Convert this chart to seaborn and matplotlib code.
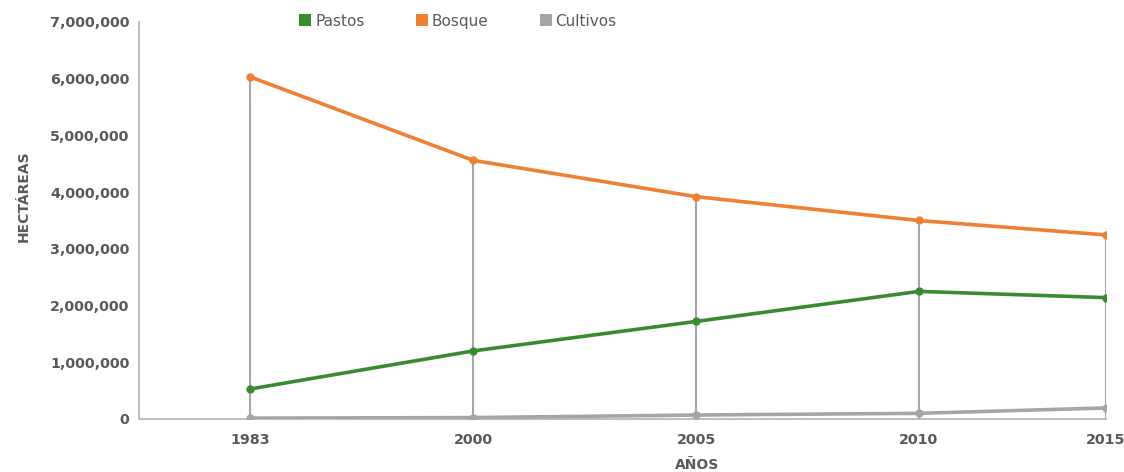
import numpy as np
import pandas as pd
import seaborn as sns
import matplotlib
matplotlib.use("Agg")
import matplotlib.pyplot as plt
from matplotlib.ticker import FuncFormatter
from matplotlib.lines import Line2D

# Land use (hectares) by year
years = ["1983", "2000", "2005", "2010", "2015"]
pastos = [530000, 1200000, 1720000, 2250000, 2140000]
bosque = [6030000, 4560000, 3920000, 3500000, 3245000]
cultivos = [15000, 25000, 70000, 100000, 195000]

series_names = ["Pastos", "Bosque", "Cultivos"]
colors = {"Pastos": "#3A8A32", "Bosque": "#EF7F32", "Cultivos": "#A5A5A5"}

# horizontal placement of the year categories on the axis
cat_pos = [0.0, 1.0, 2.0, 3.0, 3.84]

df = pd.DataFrame({
    "pos": cat_pos * 3,
    "value": pastos + bosque + cultivos,
    "serie": sum([[n] * len(years) for n in series_names], []),
})

sns.set_theme(style="white")
plt.rcParams["font.family"] = ["DejaVu Sans"]

fig = plt.figure(figsize=(11.24, 4.72), dpi=100)
ax = fig.add_axes([0.1237, 0.1123, 0.984 - 0.1237, 0.9534 - 0.1123])

# drop lines from the highest value down to the axis
tops = np.maximum.reduce([pastos, bosque, cultivos])
ax.vlines(cat_pos, 0, tops, color="#A6A6A6", linewidth=1.5, zorder=1)

sns.lineplot(data=df, x="pos", y="value", hue="serie", hue_order=series_names,
             palette=colors, marker="o", markersize=6, markeredgewidth=0,
             linewidth=2.6, legend=False, ax=ax, zorder=3)

ax.set_xlim(-0.5, cat_pos[-1])
ax.set_ylim(0, 7000000)
ax.set_yticks(np.arange(0, 7000001, 1000000))
ax.yaxis.set_major_formatter(FuncFormatter(lambda v, p: f"{int(v):,}"))
ax.set_xticks(cat_pos)
ax.set_xticklabels(years)

tick_color = "#595959"
ax.tick_params(axis="both", length=0, labelsize=10.3, labelcolor=tick_color)
ax.tick_params(axis="y", pad=7)
ax.tick_params(axis="x", pad=10)
for lbl in ax.get_xticklabels() + ax.get_yticklabels():
    lbl.set_fontweight("bold")

for side in ["top", "right"]:
    ax.spines[side].set_visible(False)
for side in ["left", "bottom"]:
    ax.spines[side].set_color("#BFBFBF")
    ax.spines[side].set_linewidth(1.5)

ax.set_xlabel("AÑOS", fontsize=10, fontweight="bold", color=tick_color)
ax.set_ylabel("HECTÁREAS", fontsize=10, fontweight="bold", color=tick_color)
ax.xaxis.set_label_coords((697 - 139) / (1106 - 139), -0.098)
ax.yaxis.set_label_coords(-0.112, 0.56)

handles = [Line2D([], [], marker="s", linestyle="none", markersize=8,
                  markerfacecolor=colors[n], markeredgewidth=0) for n in series_names]
leg = fig.legend(handles, series_names, loc="center", bbox_to_anchor=(0.407, 0.955),
                 ncol=3, frameon=False, fontsize=11, handletextpad=0.2,
                 columnspacing=3.3, handlelength=0.9)
for t in leg.get_texts():
    t.set_color(tick_color)

fig.savefig("out.png", dpi=100)
